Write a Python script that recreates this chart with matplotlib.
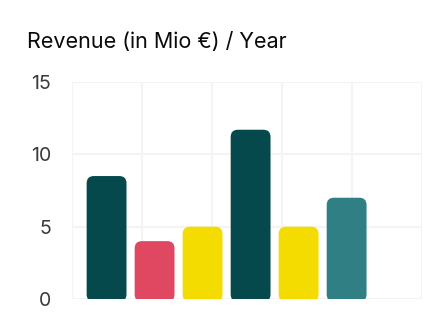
import matplotlib
matplotlib.use("Agg")
import matplotlib.pyplot as plt
from matplotlib.patches import FancyBboxPatch
import numpy as np

# data
revenue = [8.5, 4.0, 5.0, 11.7, 5.0, 7.0]
bar_colors = ["#05494c", "#e04862", "#f5dc00", "#05494c", "#f5dc00", "#307f84"]
y_ticks = [0, 5, 10, 15]

plt.rcParams['font.family'] = ['Inter', 'DejaVu Sans']

fig = plt.figure(figsize=(4.23, 3.34), dpi=100)
ax = fig.add_axes([72 / 423, 1 - 299 / 334, 350 / 423, 217 / 334])

x = np.arange(len(revenue))
width = 0.83
rx = 0.15          # corner radius in x units
ry = 0.5           # corner radius in y units
for xi, val, col in zip(x, revenue, bar_colors):
    patch = FancyBboxPatch((xi - width / 2, -0.18), width, val + 0.18,
                           boxstyle=f"round,pad=0,rounding_size={rx}",
                           mutation_aspect=ry / rx,
                           facecolor=col, edgecolor="none", zorder=3)
    ax.add_patch(patch)

ax.set_xlim(-0.72, 6.57)
ax.set_ylim(0, 15)
ax.set_yticks(y_ticks)
ax.set_xticks(-0.72 + np.arange(6) * 1.458)
ax.set_xticklabels([])
ax.tick_params(axis='both', length=0)
ax.tick_params(axis='y', pad=15, labelsize=14, labelcolor="#3a3a3a")
ax.grid(True, color="#f4f4f4", linewidth=1.5, zorder=0)
for s in ax.spines.values():
    s.set_visible(False)
ax.set_axisbelow(True)

fig.text(27 / 423, 1 - 48 / 334, "Revenue (in Mio €) / Year",
         fontsize=15.5, color="#0a0a0a", va="baseline", ha="left")

fig.savefig("out.png", dpi=100)
